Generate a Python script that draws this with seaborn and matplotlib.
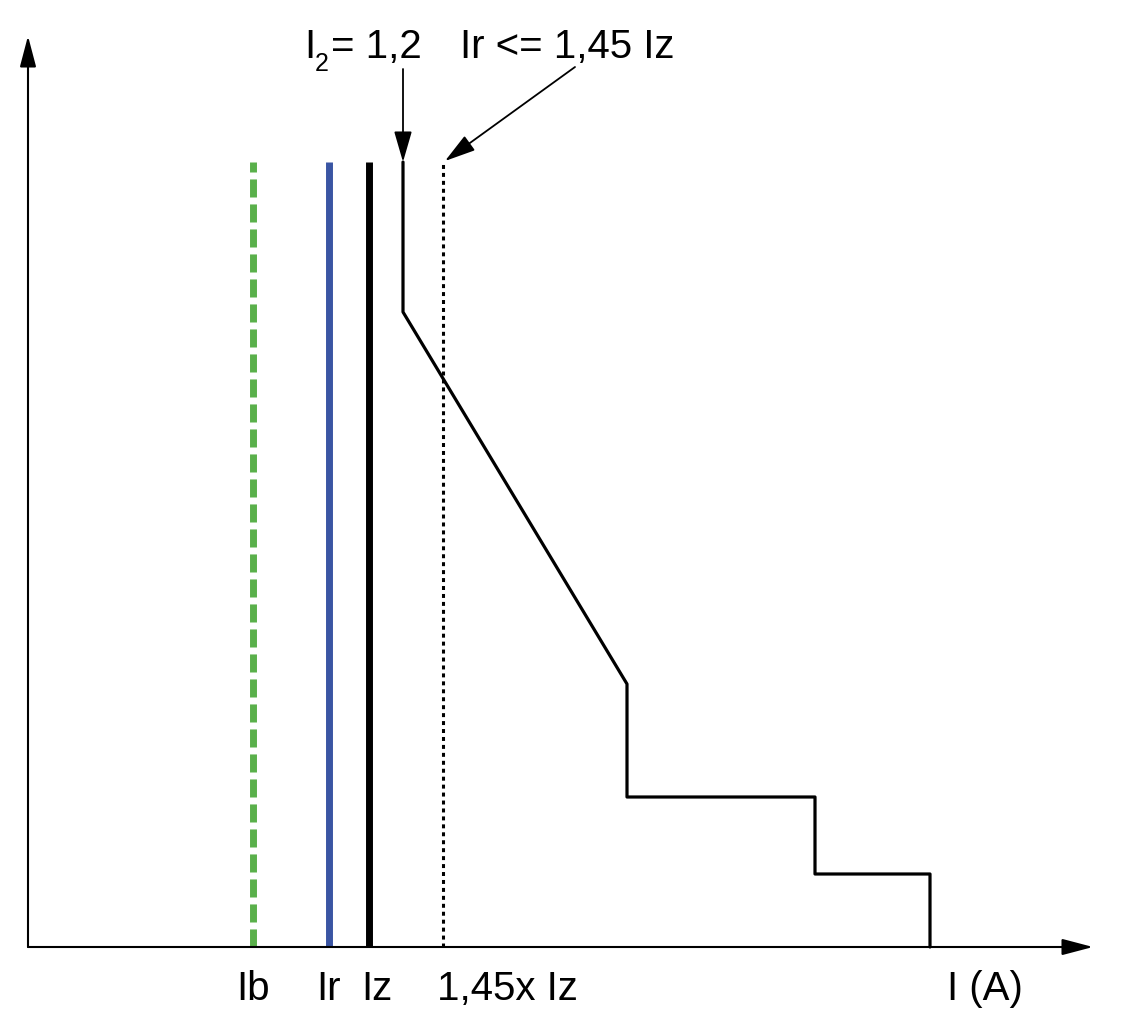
import matplotlib.pyplot as plt
import pandas as pd
import seaborn as sns

sns.set_style('white')
plt.rcParams['font.family'] = ['Liberation Sans', 'DejaVu Sans']
plt.rcParams['text.color'] = 'black'

# Trip curve of the breaker (x = current, y = time)
trip_x = [375, 375, 599, 599, 787, 787, 902, 902]
trip_y = [785, 635, 263, 150, 150, 73, 73, 0]

# Vertical reference currents
line_names = ['Ib', 'Ir', 'Iz', '1,45x Iz']
line_x = [225, 301, 341, 415]
line_top = 785

# Bottom labels and where they sit on the current axis
label_text = ['Ib', 'Ir', 'Iz', '1,45x Iz', 'I (A)']
label_x = [225, 301, 349, 479, 957]

fig = plt.figure(figsize=(11.22, 10.20), dpi=100)
ax = fig.add_axes([0, 0, 1, 1])
ax.set_xlim(-28, 1094)
ax.set_ylim(-72, 948)
ax.axis('off')

# axes with arrowheads
arrow_kw = dict(arrowstyle='-|>,head_length=1.9,head_width=0.5', color='black',
                lw=1.5, mutation_scale=10, shrinkA=0, shrinkB=0)
ax.annotate('', xy=(1065, 0), xytext=(0, 0), arrowprops=arrow_kw)
ax.annotate('', xy=(0, 911), xytext=(0, 0), arrowprops=arrow_kw)

# vertical current lines
ax.plot([line_x[0]] * 2, [0, line_top], color='#5ab04b', lw=5,
        dashes=(2.6, 1.0), solid_capstyle='butt', dash_capstyle='butt')
ax.plot([line_x[1]] * 2, [0, line_top], color='#3a55a3', lw=5, solid_capstyle='butt')
ax.plot([line_x[2]] * 2, [0, line_top], color='black', lw=5, solid_capstyle='butt')
ax.plot([line_x[3]] * 2, [0, line_top], color='black', lw=2.2,
        dashes=(1.3, 1.3), dash_capstyle='butt')

# trip curve
trip = pd.DataFrame({'x': trip_x, 'y': trip_y})
sns.lineplot(data=trip, x='x', y='y', sort=False, estimator=None,
             color='black', lw=2.3, ax=ax)
ax.set_xlabel('')
ax.set_ylabel('')

# top annotations
pointer = dict(arrowstyle='-|>,head_length=1.9,head_width=0.55', color='black',
               lw=1.3, mutation_scale=10, shrinkA=0, shrinkB=0)
ax.annotate('', xy=(375, 785), xytext=(375, 878), arrowprops=pointer)
ax.annotate('', xy=(417, 786), xytext=(547, 880), arrowprops=pointer)
ax.text(276, 901, 'I', fontsize=29, ha='left', va='center')
ax.text(287, 884, '2', fontsize=18, ha='left', va='center')
ax.text(303, 901, '= 1,2', fontsize=29, ha='left', va='center')
ax.text(432, 901, 'Ir <= 1,45 Iz', fontsize=29, ha='left', va='center')

for txt, x in zip(label_text, label_x):
    ax.text(x, -41, txt, fontsize=29, ha='center', va='center')

fig.savefig('out.png', dpi=100)
